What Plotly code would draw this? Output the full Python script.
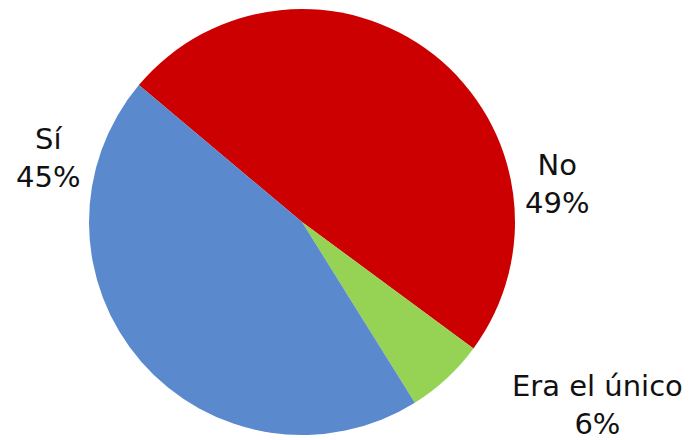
import plotly.graph_objects as go

labels = ["No", "Era el único", "Sí"]
values = [49, 6, 45]
colors = ["#CC0000", "#96D254", "#5A8ACD"]

W, H = 695, 440
OFF = 8  # page body margin offset

fig = go.Figure(go.Pie(
    labels=labels,
    values=values,
    sort=False,
    direction="clockwise",
    rotation=-50,
    marker=dict(colors=colors, line=dict(width=0)),
    textinfo="none",
    hoverinfo="label+percent",
    showlegend=False,
    domain=dict(x=[(302 - OFF - 213) / W, (302 - OFF + 213) / W],
                y=[(H - (435 - OFF)) / H, (H - (9 - OFF)) / H]),
))

label_pos = {"Sí": (48, 158), "No": (557, 184), "Era el único": (597, 405)}
for lab, val in zip(labels, values):
    px, py = label_pos[lab]
    fig.add_annotation(
        x=(px - OFF) / W, y=1 - (py - OFF) / H, xref="paper", yref="paper",
        text=f"{lab}<br>{val}%", showarrow=False,
        xanchor="center", yanchor="middle", align="center",
        font=dict(family="DejaVu Sans", size=29, color="#111111"),
    )

fig.update_layout(
    width=W, height=H,
    margin=dict(l=0, r=0, t=0, b=0),
    paper_bgcolor="white", plot_bgcolor="white",
)

fig.write_html("out.html")
